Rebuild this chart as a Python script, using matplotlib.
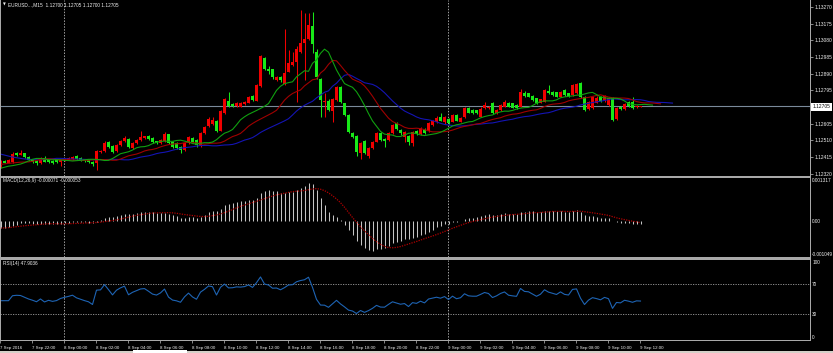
import matplotlib
matplotlib.use('Agg')
import matplotlib.pyplot as plt
import numpy as np
import pandas as pd
from matplotlib.patches import Rectangle

# ---------------- data (EURUSD M15, 7 Sep 20:00 -> 9 Sep 12:00) ----------------
open_ = [1.12360, 1.12392, 1.12383, 1.12386, 1.12437, 1.12427, 1.12437, 1.12414, 1.12400, 1.12390,
         1.12380, 1.12408, 1.12395, 1.12392, 1.12395, 1.12386, 1.12397, 1.12398, 1.12402, 1.12418,
         1.12410, 1.12402, 1.12397, 1.12386, 1.12380, 1.12443, 1.12448, 1.12500, 1.12477, 1.12448,
         1.12482, 1.12505, 1.12517, 1.12465, 1.12494, 1.12511, 1.12520, 1.12534, 1.12522, 1.12505,
         1.12494, 1.12505, 1.12545, 1.12500, 1.12494, 1.12471, 1.12454, 1.12494, 1.12523, 1.12511,
         1.12477, 1.12551, 1.12591, 1.12605, 1.12621, 1.12565, 1.12663, 1.12736, 1.12718, 1.12705,
         1.12701, 1.12717, 1.12724, 1.12762, 1.12736, 1.12819, 1.12977, 1.12918, 1.12914, 1.12854,
         1.12873, 1.12831, 1.12901, 1.12939, 1.12958, 1.13015, 1.13063, 1.13086, 1.13162, 1.13015,
         1.12861, 1.12730, 1.12736, 1.12679, 1.12739, 1.12815, 1.12720, 1.12654, 1.12553, 1.12534,
         1.12439, 1.12507, 1.12420, 1.12464, 1.12502, 1.12549, 1.12515, 1.12511, 1.12549, 1.12606,
         1.12568, 1.12531, 1.12534, 1.12493, 1.12565, 1.12546, 1.12575, 1.12560, 1.12595, 1.12612,
         1.12640, 1.12612, 1.12632, 1.12616, 1.12654, 1.12616, 1.12640, 1.12692, 1.12680, 1.12680,
         1.12645, 1.12692, 1.12692, 1.12721, 1.12664, 1.12683, 1.12702, 1.12725, 1.12721, 1.12711,
         1.12702, 1.12778, 1.12778, 1.12762, 1.12749, 1.12724, 1.12730, 1.12793, 1.12787, 1.12783,
         1.12759, 1.12797, 1.12778, 1.12768, 1.12778, 1.12835, 1.12759, 1.12686, 1.12692, 1.12725,
         1.12755, 1.12736, 1.12711, 1.12749, 1.12630, 1.12702, 1.12686, 1.12730, 1.12730, 1.12698,
         1.12700]
high = [1.12400, 1.12400, 1.12405, 1.12445, 1.12443, 1.12455, 1.12440, 1.12420, 1.12405, 1.12395,
        1.12412, 1.12420, 1.12400, 1.12397, 1.12400, 1.12400, 1.12407, 1.12412, 1.12418, 1.12425,
        1.12414, 1.12405, 1.12400, 1.12390, 1.12456, 1.12456, 1.12505, 1.12508, 1.12482, 1.12488,
        1.12510, 1.12534, 1.12522, 1.12499, 1.12516, 1.12563, 1.12537, 1.12540, 1.12526, 1.12508,
        1.12515, 1.12556, 1.12548, 1.12503, 1.12498, 1.12475, 1.12498, 1.12532, 1.12528, 1.12515,
        1.12556, 1.12590, 1.12640, 1.12640, 1.12628, 1.12684, 1.12750, 1.12783, 1.12725, 1.12728,
        1.12728, 1.12735, 1.12762, 1.12766, 1.12830, 1.12995, 1.12983, 1.12935, 1.12918, 1.12878,
        1.12878, 1.13143, 1.13025, 1.13015, 1.13050, 1.13253, 1.13234, 1.13234, 1.13243, 1.13030,
        1.12866, 1.12777, 1.12745, 1.12750, 1.12818, 1.12820, 1.12725, 1.12658, 1.12557, 1.12538,
        1.12502, 1.12512, 1.12470, 1.12507, 1.12558, 1.12555, 1.12520, 1.12558, 1.12602, 1.12612,
        1.12575, 1.12565, 1.12540, 1.12565, 1.12570, 1.12583, 1.12580, 1.12612, 1.12628, 1.12650,
        1.12664, 1.12650, 1.12636, 1.12660, 1.12658, 1.12640, 1.12697, 1.12697, 1.12690, 1.12685,
        1.12700, 1.12730, 1.12708, 1.12726, 1.12688, 1.12716, 1.12740, 1.12730, 1.12725, 1.12716,
        1.12800, 1.12790, 1.12782, 1.12766, 1.12753, 1.12748, 1.12802, 1.12825, 1.12792, 1.12788,
        1.12792, 1.12802, 1.12782, 1.12830, 1.12838, 1.12840, 1.12763, 1.12735, 1.12765, 1.12760,
        1.12765, 1.12770, 1.12755, 1.12755, 1.12697, 1.12707, 1.12722, 1.12735, 1.12755, 1.12712,
        1.12705]
low = [1.12352, 1.12378, 1.12378, 1.12383, 1.12420, 1.12424, 1.12410, 1.12392, 1.12380, 1.12368,
       1.12377, 1.12385, 1.12383, 1.12372, 1.12382, 1.12363, 1.12394, 1.12395, 1.12400, 1.12400,
       1.12393, 1.12388, 1.12382, 1.12365, 1.12340, 1.12438, 1.12445, 1.12468, 1.12440, 1.12445,
       1.12478, 1.12500, 1.12466, 1.12460, 1.12488, 1.12508, 1.12516, 1.12514, 1.12496, 1.12490,
       1.12490, 1.12500, 1.12488, 1.12466, 1.12460, 1.12437, 1.12450, 1.12490, 1.12496, 1.12471,
       1.12472, 1.12546, 1.12586, 1.12598, 1.12555, 1.12560, 1.12658, 1.12700, 1.12700, 1.12700,
       1.12697, 1.12712, 1.12720, 1.12735, 1.12732, 1.12815, 1.12910, 1.12890, 1.12862, 1.12850,
       1.12845, 1.12825, 1.12897, 1.12935, 1.12730, 1.13010, 1.12854, 1.13080, 1.13006, 1.12860,
       1.12644, 1.12644, 1.12675, 1.12616, 1.12735, 1.12725, 1.12648, 1.12550, 1.12524, 1.12420,
       1.12401, 1.12430, 1.12410, 1.12460, 1.12498, 1.12507, 1.12473, 1.12507, 1.12545, 1.12568,
       1.12540, 1.12500, 1.12483, 1.12478, 1.12542, 1.12542, 1.12545, 1.12555, 1.12590, 1.12607,
       1.12617, 1.12605, 1.12600, 1.12612, 1.12617, 1.12612, 1.12636, 1.12664, 1.12660, 1.12659,
       1.12640, 1.12688, 1.12688, 1.12660, 1.12659, 1.12679, 1.12698, 1.12698, 1.12692, 1.12688,
       1.12698, 1.12758, 1.12755, 1.12736, 1.12717, 1.12720, 1.12726, 1.12774, 1.12764, 1.12755,
       1.12755, 1.12764, 1.12758, 1.12764, 1.12774, 1.12750, 1.12678, 1.12682, 1.12688, 1.12720,
       1.12730, 1.12730, 1.12707, 1.12620, 1.12625, 1.12682, 1.12682, 1.12702, 1.12688, 1.12694,
       1.12700]
close = [1.12392, 1.12383, 1.12397, 1.12431, 1.12425, 1.12440, 1.12414, 1.12397, 1.12386, 1.12380,
         1.12408, 1.12388, 1.12388, 1.12378, 1.12386, 1.12397, 1.12403, 1.12408, 1.12414, 1.12403,
         1.12397, 1.12391, 1.12386, 1.12374, 1.12448, 1.12450, 1.12494, 1.12471, 1.12443, 1.12482,
         1.12505, 1.12523, 1.12471, 1.12494, 1.12511, 1.12528, 1.12532, 1.12517, 1.12500, 1.12494,
         1.12511, 1.12545, 1.12494, 1.12471, 1.12465, 1.12454, 1.12494, 1.12528, 1.12500, 1.12482,
         1.12551, 1.12585, 1.12633, 1.12628, 1.12560, 1.12677, 1.12743, 1.12705, 1.12708, 1.12724,
         1.12722, 1.12730, 1.12758, 1.12739, 1.12825, 1.12990, 1.12916, 1.12905, 1.12869, 1.12873,
         1.12854, 1.12895, 1.12952, 1.12958, 1.13029, 1.13063, 1.13086, 1.13167, 1.13059, 1.12869,
         1.12739, 1.12736, 1.12682, 1.12745, 1.12812, 1.12730, 1.12654, 1.12559, 1.12530, 1.12445,
         1.12496, 1.12435, 1.12464, 1.12502, 1.12553, 1.12511, 1.12508, 1.12553, 1.12597, 1.12572,
         1.12549, 1.12559, 1.12502, 1.12559, 1.12546, 1.12578, 1.12550, 1.12607, 1.12622, 1.12635,
         1.12622, 1.12645, 1.12607, 1.12654, 1.12622, 1.12635, 1.12692, 1.12668, 1.12664, 1.12664,
         1.12686, 1.12711, 1.12702, 1.12664, 1.12683, 1.12711, 1.12730, 1.12702, 1.12696, 1.12692,
         1.12787, 1.12762, 1.12759, 1.12740, 1.12721, 1.12743, 1.12797, 1.12778, 1.12768, 1.12759,
         1.12787, 1.12768, 1.12763, 1.12825, 1.12831, 1.12755, 1.12683, 1.12730, 1.12759, 1.12749,
         1.12736, 1.12762, 1.12749, 1.12626, 1.12692, 1.12686, 1.12717, 1.12706, 1.12692, 1.12707,
         1.12705]

# Alligator values visible left of the first bar and seeds at bar 0
jaw_head_pos = [0, 3, 6]
jaw_head = [1.12431, 1.12414, 1.12403]
jaw_seed = 1.12400
teeth_head_pos = [0, 2, 4]
teeth_head = [1.12372, 1.12378, 1.12383]
teeth_seed = 1.12385
lips_head_pos = [0, 2]
lips_head = [1.12350, 1.12362]
lips_seed = 1.12365
# MACD value of the first bar
macd_start = -0.00022
# RSI values of the first bars (before the 14-bar window fills)
rsi_head = [48.4, 48.4, 48.4, 55.0, 55.6, 55.3, 53.0, 50.7, 49.0, 47.0, 50.7, 46.7, 48.9, 47.5]

price_ticks = [1.13270, 1.13175, 1.13080, 1.12985, 1.12890, 1.12795, 1.12605, 1.12510, 1.12415, 1.12320]
bid_price = 1.12705
time_labels = ["7 Sep 2016", "7 Sep 22:00", "8 Sep 00:00", "8 Sep 02:00", "8 Sep 04:00", "8 Sep 06:00",
               "8 Sep 08:00", "8 Sep 10:00", "8 Sep 12:00", "8 Sep 14:00", "8 Sep 16:00", "8 Sep 18:00",
               "8 Sep 20:00", "8 Sep 22:00", "9 Sep 00:00", "9 Sep 02:00", "9 Sep 04:00", "9 Sep 06:00",
               "9 Sep 08:00", "9 Sep 10:00", "9 Sep 12:00"]
macd_ticks = [0.001317, 0.0, -0.001049]
macd_tick_labels = ["0.001317", "0.00", "-0.001049"]
rsi_ticks = [100, 70, 30, 0]
header_main = "EURUSD...,M15  1.12700 1.12705 1.12700 1.12705"
header_macd = "MACD(12,26,9) -0.000071 -0.000053"
header_rsi = "RSI(14) 47.9036"

# ---------------- indicators ----------------
o = np.array(open_); h = np.array(high); l = np.array(low); c = np.array(close)
n = len(c)
idx = np.arange(n)

def smma(x, p, seed):
    out = np.empty_like(x)
    out[0] = seed
    for i in range(1, len(x)):
        out[i] = (out[i - 1] * (p - 1) + x[i]) / p
    return out

def ema(x, p, seed):
    a = 2.0 / (p + 1)
    out = np.empty_like(x)
    out[0] = seed
    for i in range(1, len(x)):
        out[i] = a * x[i] + (1 - a) * out[i - 1]
    return out

med = (h + l) / 2
jaw = smma(med, 13, jaw_seed); teeth = smma(med, 8, teeth_seed); lips = smma(med, 5, lips_seed)
macd = ema(c, 12, c[0]) - ema(c, 26, c[0] - macd_start)
signal = pd.Series(macd).rolling(9, min_periods=1).mean().values

P = 14
d = np.diff(c)
g = np.clip(d, 0, None); ls_ = np.clip(-d, 0, None)
rsi_k = []; rsi_v = []
ag = g[:P].mean(); al = ls_[:P].mean()
for i in range(P - 1, len(d)):
    if i > P - 1:
        ag = (ag * (P - 1) + g[i]) / P
        al = (al * (P - 1) + ls_[i]) / P
    rsi_k.append(i + 1)
    rsi_v.append(100 * ag / (ag + al) if ag + al > 0 else 50)
rsi_x = list(range(len(rsi_head))) + rsi_k
rsi_y = list(rsi_head) + rsi_v

# ---------------- figure ----------------
W, H = 833, 353
fig = plt.figure(figsize=(W / 100, H / 100), dpi=100, facecolor='black')
FONT = 'Liberation Sans'
FS = 3.4
FSY = 3.5
TXT = '#f0f0f0'
GRID = '#a0a0a0'

def ax_px(x0, y0, x1, y1):
    a = fig.add_axes([x0 / W, 1 - y1 / H, (x1 - x0) / W, (y1 - y0) / H])
    a.set_facecolor('black')
    for s in a.spines.values():
        s.set_visible(False)
    a.set_xlim(-0.125, 202.375)
    return a

def frect(x0, y0, x1, y1, color, z=5):
    fig.patches.append(Rectangle((x0 / W, 1 - y1 / H), (x1 - x0) / W, (y1 - y0) / H,
                                 transform=fig.transFigure, facecolor=color, edgecolor='none',
                                 zorder=z))

ax = ax_px(0, 0, 810, 176)
axm = ax_px(0, 178, 810, 256.5)
axr = ax_px(0, 259.5, 810, 340)

# separators / borders
frect(0, 175.5, 810.5, 178, '#a8a8a8')
frect(0, 256.5, 810.5, 259.5, '#a8a8a8')
frect(0, 340, 810.5, 341, '#a8a8a8')
frect(0, 0, 1, 341, '#a8a8a8')
frect(809.5, 0, 810.5, 341, '#a8a8a8')
# bottom strip
frect(0, 350.5, 833, 353, '#d4d0c8')
frect(133, 349.5, 187, 353, '#ffffff')

# ---- main price panel ----
ax.set_ylim(1.12306, 1.13310)
up = c >= o
col = np.where(up, '#f00000', '#18e818')
ax.vlines(idx, l, h, colors=col, lw=0.75, zorder=3)
body_lo = np.minimum(o, c)
body_h = np.maximum(np.abs(c - o), 0.00004)
ax.bar(idx, body_h, bottom=body_lo, width=0.72, color=col, edgecolor='none', zorder=4)

ax.plot(np.concatenate([jaw_head_pos, idx + 8]), np.concatenate([jaw_head, jaw]),
        color='#1414b4', lw=0.8, zorder=5)
ax.plot(np.concatenate([teeth_head_pos, idx + 5]), np.concatenate([teeth_head, teeth]),
        color='#a00000', lw=0.8, zorder=5)
ax.plot(np.concatenate([lips_head_pos, idx + 3]), np.concatenate([lips_head, lips]),
        color='#10a010', lw=0.8, zorder=5)
ax.axhline(bid_price, color='#7a8a9a', lw=0.8, zorder=2)

ax.yaxis.tick_right()
ax.set_yticks(price_ticks)
ax.set_yticklabels([f"{v:.5f}" for v in price_ticks], fontsize=FSY, color=TXT, family=FONT)
ax.tick_params(axis='y', length=2, width=0.6, color=GRID, pad=1)
ax.set_xticks([])

# bid price box
frect(811, 103, 832, 111, '#ffffff', z=6)
fig.text(812.5 / W, 1 - 107 / H, f"{bid_price:.5f}", fontsize=FSY, color='black', family=FONT,
         va='center', ha='left', zorder=7)

# ---- MACD panel ----
axm.set_ylim(-0.001129, 0.001381)
axm.vlines(idx, 0, macd, colors='#c4c4c4', lw=0.75, zorder=3)
axm.plot(idx, signal, color='#b00000', lw=0.9, ls=(0, (1, 1)), zorder=4)
axm.yaxis.tick_right()
axm.set_yticks(macd_ticks)
axm.set_yticklabels(macd_tick_labels, fontsize=FS, color=TXT, family=FONT)
axm.tick_params(axis='y', length=0, pad=1.5)
axm.set_xticks([])

# ---- RSI panel ----
axr.set_ylim(-4, 103.3)
axr.plot(rsi_x, rsi_y, color='#1e64b4', lw=0.8, zorder=4)
for lv in (70, 30):
    axr.axhline(lv, color=GRID, lw=0.6, ls=(0, (1.5, 1.5)), zorder=2)
axr.yaxis.tick_right()
axr.set_yticks(rsi_ticks)
axr.set_yticklabels([str(v) for v in rsi_ticks], fontsize=FS, color=TXT, family=FONT)
axr.tick_params(axis='y', length=0, pad=1.5)

tick_pos = np.arange(0, 161, 8)
axr.set_xticks(tick_pos - 0.125)
axr.set_xticklabels(time_labels, fontsize=3.2, color=TXT, family=FONT)
for t in axr.get_xticklabels():
    t.set_ha('left')
axr.tick_params(axis='x', length=2.5, width=0.6, color=GRID, pad=1.5)

# day separators
for a in (ax, axm, axr):
    for k in (16, 112):
        a.axvline(k - 0.125, color=GRID, lw=0.7, ls=(0, (1.5, 1.5)), zorder=1)

# headers
fig.text(3 / W, 1 - 5 / H, "\u25BC", fontsize=2.6, color=TXT, family='DejaVu Sans', va='center')
fig.text(8 / W, 1 - 5 / H, header_main, fontsize=FS, color=TXT, family=FONT, va='center')
fig.text(3 / W, 1 - 181 / H, header_macd, fontsize=FS, color=TXT, family=FONT, va='center')
fig.text(3 / W, 1 - 263 / H, header_rsi, fontsize=FS, color=TXT, family=FONT, va='center')

fig.savefig('out.png', dpi=100, facecolor='black')
